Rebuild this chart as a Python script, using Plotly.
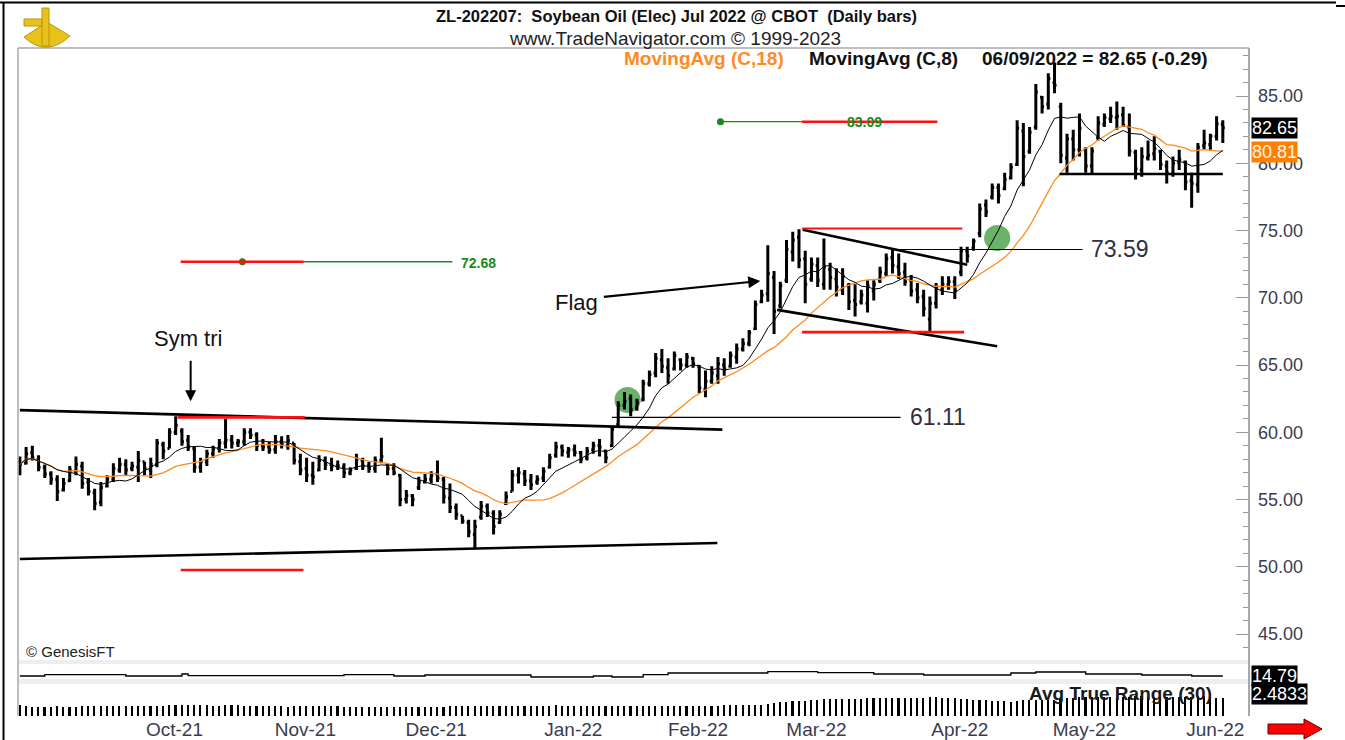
import numpy as np
import pandas as pd
import plotly.graph_objects as go

W, H = 1345, 740
FONT = "Liberation Sans, Arial, sans-serif"

# ---------------- data ----------------
month_labels = ["Oct-21", "Nov-21", "Dec-21", "Jan-22", "Feb-22", "Mar-22", "Apr-22", "May-22", "Jun-22"]
month_first_bar = [20, 41, 62, 84, 104, 123, 146, 166, 187]
price_ticks = [45, 50, 55, 60, 65, 70, 75, 80, 85]

opens = [
    57.8, 57.7, 58.5, 58.0, 57.4, 56.9, 56.5, 55.7, 56.4, 57.1,
    57.5, 56.3, 55.5, 54.8, 56.0, 56.5, 57.2, 57.6, 57.3, 57.4,
    57.8, 57.2, 57.6, 59.1, 58.8, 60.0, 60.1, 59.4, 58.8, 57.4,
    57.8, 58.4, 58.8, 59.2, 59.4, 59.2, 59.3, 60.0, 59.8, 59.0,
    58.9, 58.7, 59.3, 59.0, 59.2, 57.8, 57.3, 56.8, 57.2, 57.9,
    57.6, 57.5, 57.4, 57.0, 57.3, 57.9, 57.5, 57.3, 57.9, 57.6,
    57.3, 56.8, 55.0, 55.3, 55.9, 56.3, 56.5, 56.9, 56.5, 55.1,
    54.4, 53.8, 53.3, 52.4, 53.7, 54.5, 54.0, 53.3, 54.7, 55.6,
    56.8, 56.9, 56.4, 56.3, 56.6, 57.4, 58.3, 58.9, 58.5, 58.7,
    58.5, 58.1, 58.7, 59.0, 58.6, 59.0, 60.6, 62.0, 62.5, 61.8,
    62.4, 63.6, 64.4, 65.4, 64.8, 64.7, 65.4, 65.0, 65.5, 64.9,
    63.2, 63.8, 64.2, 65.0, 64.9, 65.6, 66.2, 66.6, 67.7, 69.7,
    70.3, 71.5, 69.4, 71.3, 73.4, 74.5, 72.9, 71.4, 72.4, 71.0,
    72.1, 71.4, 70.6, 70.9, 69.8, 69.7, 69.6, 70.5, 71.3, 71.8,
    73.0, 72.3, 71.9, 71.3, 70.6, 70.1, 68.4, 69.6, 70.6, 71.0,
    71.2, 71.9, 73.5, 73.7, 74.8, 76.9, 77.5, 78.2, 78.1, 78.9,
    79.9, 82.4, 80.9, 82.7, 84.9, 84.4, 86.0, 84.2, 80.4, 81.8,
    81.0, 81.0, 79.8, 81.9, 82.9, 83.3, 83.4, 83.6, 82.7, 80.8,
    79.5, 80.4, 80.7, 80.9, 79.8, 79.2, 80.1, 80.1, 78.7, 78.4,
    81.3, 81.4, 82.0, 82.9,
]
highs = [
    58.2, 58.9, 59.0, 58.3, 57.6, 57.1, 56.8, 56.6, 57.5, 58.2,
    57.8, 56.6, 55.8, 56.3, 56.8, 57.7, 58.1, 58.0, 57.8, 58.6,
    57.8, 58.1, 59.5, 59.3, 60.3, 61.2, 60.3, 59.8, 58.9, 58.1,
    58.7, 59.0, 59.5, 61.0, 59.8, 59.5, 60.3, 60.3, 60.0, 59.5,
    59.3, 59.8, 59.7, 59.8, 59.2, 58.4, 58.1, 57.8, 58.3, 58.2,
    58.1, 57.9, 57.7, 57.4, 58.4, 58.1, 57.8, 58.2, 59.6, 57.7,
    57.7, 56.9, 55.7, 55.4, 56.7, 56.9, 57.1, 57.9, 56.7, 56.2,
    54.7, 53.8, 53.5, 53.5, 54.9, 54.7, 54.2, 54.2, 55.6, 57.2,
    57.4, 57.2, 56.9, 56.8, 57.4, 58.4, 59.3, 59.1, 58.9, 59.1,
    58.6, 58.9, 59.3, 59.5, 58.7, 60.4, 62.3, 63.0, 62.8, 62.5,
    63.9, 64.6, 65.9, 66.2, 65.5, 66.0, 65.5, 65.9, 65.6, 65.0,
    64.6, 64.9, 65.6, 65.5, 66.0, 66.6, 67.0, 67.6, 69.8, 70.6,
    73.9, 72.0, 71.2, 74.3, 74.9, 75.1, 73.5, 73.0, 73.0, 74.4,
    72.6, 72.2, 72.2, 71.1, 71.0, 70.6, 71.3, 71.3, 72.3, 73.3,
    73.7, 73.3, 72.6, 71.7, 71.1, 70.6, 70.1, 71.1, 71.6, 71.6,
    71.6, 73.8, 73.8, 74.4, 77.0, 77.3, 78.5, 78.5, 79.3, 80.0,
    83.2, 83.0, 82.7, 85.9, 85.0, 86.7, 87.5, 84.5, 82.2, 82.5,
    83.7, 81.2, 81.2, 83.5, 83.7, 84.2, 84.6, 84.2, 83.7, 81.0,
    81.2, 81.7, 82.0, 81.0, 80.2, 80.5, 81.0, 80.2, 79.3, 81.5,
    82.5, 82.2, 83.5, 83.2,
]
lows = [
    56.8, 57.6, 57.9, 57.1, 56.6, 56.1, 54.9, 55.6, 56.3, 56.8,
    55.8, 55.3, 54.2, 54.5, 55.9, 56.3, 57.0, 56.8, 57.1, 56.3,
    56.8, 56.6, 57.4, 58.0, 58.8, 59.8, 59.0, 58.6, 57.0, 57.0,
    57.5, 58.1, 58.5, 58.8, 58.8, 58.9, 59.0, 59.5, 58.6, 58.6,
    58.4, 58.4, 58.8, 58.7, 57.6, 56.8, 56.3, 56.1, 57.1, 57.2,
    57.1, 57.2, 56.6, 56.8, 57.2, 57.2, 57.0, 57.0, 57.7, 56.8,
    56.8, 54.5, 54.7, 54.5, 55.7, 56.2, 56.2, 56.3, 54.7, 54.0,
    53.5, 53.2, 52.2, 51.4, 53.5, 53.7, 52.4, 53.2, 54.6, 55.6,
    56.2, 56.0, 55.7, 56.1, 56.3, 57.3, 58.1, 58.2, 58.1, 58.2,
    57.7, 57.9, 58.4, 58.2, 57.7, 58.9, 60.4, 61.7, 61.2, 61.6,
    62.3, 63.4, 64.1, 64.4, 63.6, 64.6, 64.6, 64.8, 64.8, 62.9,
    62.6, 63.6, 63.6, 64.2, 64.8, 65.1, 66.0, 66.4, 67.6, 69.6,
    69.7, 67.3, 69.2, 71.1, 72.7, 72.2, 69.6, 71.2, 70.8, 70.6,
    70.6, 70.1, 70.2, 69.1, 68.6, 69.5, 68.9, 69.8, 71.1, 71.6,
    71.8, 71.4, 70.9, 70.1, 69.6, 68.6, 67.4, 69.2, 70.2, 70.6,
    69.9, 71.6, 72.6, 73.5, 74.5, 76.0, 77.3, 77.0, 78.0, 78.8,
    79.8, 78.3, 80.7, 82.5, 83.7, 84.0, 85.2, 80.0, 79.3, 80.2,
    80.5, 79.3, 79.2, 81.7, 82.7, 83.0, 82.5, 82.7, 80.5, 78.8,
    79.0, 80.2, 80.2, 79.5, 78.5, 79.0, 79.5, 78.0, 76.7, 77.8,
    81.0, 81.0, 81.7, 81.5,
]
closes = [
    57.6, 58.4, 58.1, 57.4, 56.9, 56.5, 55.6, 56.2, 57.2, 57.6,
    56.2, 55.6, 54.7, 55.9, 56.5, 57.3, 57.6, 57.2, 57.5, 57.9,
    57.3, 57.6, 59.2, 58.6, 60.0, 60.5, 59.3, 58.9, 57.4, 57.8,
    58.4, 58.8, 59.2, 59.4, 59.2, 59.3, 60.0, 59.8, 59.0, 58.9,
    58.7, 59.3, 59.1, 59.4, 57.9, 57.2, 56.8, 56.7, 57.9, 57.6,
    57.5, 57.5, 57.0, 57.2, 58.0, 57.5, 57.3, 57.9, 58.2, 57.3,
    57.0, 55.0, 55.3, 55.0, 56.3, 56.5, 56.8, 56.6, 55.2, 54.4,
    53.9, 53.4, 52.6, 53.0, 54.5, 54.0, 53.0, 53.9, 55.2, 56.8,
    57.0, 56.4, 56.1, 56.5, 57.1, 58.1, 58.9, 58.6, 58.7, 58.5,
    58.0, 58.6, 59.0, 58.9, 58.1, 60.2, 62.0, 62.3, 61.7, 62.2,
    63.6, 64.3, 65.5, 64.9, 64.2, 65.7, 65.0, 65.6, 65.1, 63.3,
    63.8, 64.4, 65.1, 64.7, 65.7, 66.2, 66.6, 67.4, 69.5, 70.2,
    71.8, 69.0, 70.9, 73.6, 74.3, 72.8, 71.0, 72.5, 71.3, 72.3,
    71.5, 70.8, 71.6, 69.7, 69.5, 70.2, 70.9, 71.0, 71.9, 72.9,
    72.4, 71.8, 71.2, 70.5, 70.0, 69.2, 69.6, 70.7, 71.0, 71.2,
    70.6, 73.5, 73.1, 74.2, 76.6, 76.4, 78.2, 77.6, 78.8, 79.7,
    82.6, 80.5, 82.3, 85.3, 84.2, 86.3, 85.8, 80.6, 81.8, 81.0,
    82.6, 79.8, 80.9, 83.0, 83.4, 83.5, 83.5, 82.8, 80.9, 79.6,
    80.5, 80.6, 81.1, 79.9, 79.3, 80.0, 80.3, 78.6, 78.5, 81.2,
    81.5, 82.0, 82.94, 82.65,
]

last_close_label = 82.65
ma18_label = 80.81
upper_panel_label = 14.79
atr_label_text = "2.4833"

# small upper indicator panel: level changes (bar index, value)
sub_bars = [0, 4, 17, 26, 27, 52, 60, 65, 82, 92, 95, 100, 104, 120, 128, 137, 145, 159, 163, 171, 180, 188, 193]
sub_vals = [14.8, 15.5, 14.8, 15.8, 15.0, 15.5, 14.8, 15.3, 14.3, 14.8, 14.3, 15.5, 16.3, 17.0, 16.5,
            15.8, 15.3, 16.3, 16.8, 15.8, 15.3, 14.79, 14.79]

# drawn study levels
breakout_tri = 61.11
breakout_flag = 73.59
target_tri = 72.68
target_flag = 83.09
support_level = 79.2

# ---------------- derived indicators ----------------
n = len(closes)
idx = np.arange(n)
c = pd.Series(closes)
ma18 = c.rolling(18, min_periods=1).mean()
ma8 = c.rolling(8, min_periods=1).mean()
h = pd.Series(highs)
l = pd.Series(lows)
prev = c.shift(1).fillna(opens[0])
tr = pd.concat([h - l, (h - prev).abs(), (l - prev).abs()], axis=1).max(axis=1)
atr = tr.rolling(30, min_periods=1).mean()


def px(x):
    return x / W


def py(y):
    return 1 - y / H


fig = go.Figure()

fig.add_trace(go.Ohlc(
    x=idx, open=opens, high=highs, low=lows, close=closes,
    increasing=dict(line=dict(color="black", width=3)),
    decreasing=dict(line=dict(color="black", width=3)),
    tickwidth=0.32, xaxis="x", yaxis="y", showlegend=False, hoverinfo="skip",
))
fig.add_trace(go.Scatter(x=idx, y=ma18, mode="lines", line=dict(color="#ff8a1e", width=1.3),
                         xaxis="x", yaxis="y", showlegend=False, hoverinfo="skip"))
fig.add_trace(go.Scatter(x=idx, y=ma8, mode="lines", line=dict(color="black", width=1),
                         xaxis="x", yaxis="y", showlegend=False, hoverinfo="skip"))
fig.add_trace(go.Scatter(x=[35.7, 112.4], y=[target_tri, target_flag], mode="markers",
                         marker=dict(color="#1a8a1a", size=7), xaxis="x", yaxis="y",
                         showlegend=False, hoverinfo="skip"))
fig.add_trace(go.Scatter(x=sub_bars, y=sub_vals, mode="lines", line=dict(color="black", width=1.3, shape="hv"),
                         xaxis="x2", yaxis="y2", showlegend=False, hoverinfo="skip"))
fig.add_trace(go.Bar(x=idx, y=atr, width=0.26, marker=dict(color="black", line=dict(width=0)),
                     xaxis="x3", yaxis="y3", showlegend=False, hoverinfo="skip"))

shapes = []


def seg(x0, y0, x1, y1, color="black", width=1.0, xref="x", yref="y", layer="above"):
    shapes.append(dict(type="line", x0=x0, y0=y0, x1=x1, y1=y1, xref=xref, yref=yref,
                       line=dict(color=color, width=width), layer=layer))


# triangle / flag trend lines
seg(0.0, 61.65, 112.7, 60.2, width=2.6)
seg(0.0, 50.58, 111.9, 51.77, width=2.6)
seg(125.6, 75.05, 152.0, 72.45, width=2.6)
seg(121.5, 69.1, 156.8, 66.4, width=2.6)
seg(166.8, support_level, 193.0, support_level, width=2.6)

# breakout levels (thin)
seg(95.0, breakout_tri, 141.3, breakout_tri, width=1.2)
seg(140.0, breakout_flag, 170.5, breakout_flag, width=1.2)
# targets (green)
seg(35.7, target_tri, 69.4, target_tri, color="#1a8a1a", width=1.3)
seg(112.4, target_flag, 132.5, target_flag, color="#1a8a1a", width=1.3)
# red measurement lines
red = "#ff1010"
seg(25.3, breakout_tri, 45.7, breakout_tri, color=red, width=2.6)
seg(25.8, 49.76, 45.5, 49.76, color=red, width=2.6)
seg(25.8, target_tri, 45.5, target_tri, color=red, width=2.6)
seg(125.5, 75.15, 151.2, 75.15, color=red, width=2.2)
seg(125.5, 67.45, 151.5, 67.45, color=red, width=2.6)
seg(125.5, target_flag, 147.2, target_flag, color=red, width=2.6)

# green breakout circles
for cx, cy in [(97.5, 62.4), (156.8, 74.44)]:
    shapes.append(dict(type="circle", xref="x", yref="y", x0=cx - 2.1, x1=cx + 2.1, y0=cy - 0.97, y1=cy + 0.97,
                       fillcolor="rgba(70,160,70,0.8)", line=dict(width=0), layer="below"))

# panel separators (light gray bands)
shapes.append(dict(type="rect", xref="paper", yref="paper", x0=px(18), x1=px(1249), y0=py(664), y1=py(660),
                   fillcolor="#eeeeee", line=dict(width=0), layer="below"))
shapes.append(dict(type="rect", xref="paper", yref="paper", x0=px(18), x1=px(1249), y0=py(684), y1=py(679),
                   fillcolor="#eeeeee", line=dict(width=0), layer="below"))
# plot frame (gray)
seg(px(18), py(48), px(1249), py(48), color="#a8a8a8", width=1.5, xref="paper", yref="paper")
seg(px(18), py(48), px(18), py(716), color="#a8a8a8", width=1.5, xref="paper", yref="paper")
seg(px(1249), py(48), px(1249), py(716), color="#a8a8a8", width=2, xref="paper", yref="paper")
# outer black frame
seg(px(0), py(2.5), px(1336), py(2.5), color="black", width=2, xref="paper", yref="paper")
seg(px(1336), py(6), px(1345), py(6), color="black", width=2, xref="paper", yref="paper")
seg(px(3.5), py(2), px(3.5), py(740), color="black", width=2, xref="paper", yref="paper")

# red arrow (bottom right)
arrow_path = "M {} {} L {} {} L {} {} L {} {} L {} {} L {} {} L {} {} Z".format(
    px(1268), py(724), px(1304), py(724), px(1304), py(719), px(1322), py(729),
    px(1304), py(739), px(1304), py(734), px(1268), py(734))
shapes.append(dict(type="path", xref="paper", yref="paper", path=arrow_path,
                   fillcolor="#ff0000", line=dict(color="#600000", width=1)))

# simple golden sextant logo
gold = "#e8c21a"
shapes.append(dict(type="path", xref="paper", yref="paper",
                   path="M {} {} Q {} {} {} {} L {} {} Z".format(px(24), py(37), px(46), py(58), px(70), py(36),
                                                                 px(47), py(22)),
                   fillcolor=gold, line=dict(color="#b8960a", width=1)))
shapes.append(dict(type="rect", xref="paper", yref="paper", x0=px(24), x1=px(42), y0=py(26), y1=py(19),
                   fillcolor=gold, line=dict(color="#b8960a", width=1)))
shapes.append(dict(type="rect", xref="paper", yref="paper", x0=px(42), x1=px(49), y0=py(46), y1=py(8),
                   fillcolor=gold, line=dict(color="#b8960a", width=1)))

ann = []


def text(x, y, s, size, color="black", bold=False, xanchor="center", xref="paper", yref="paper", **kw):
    d = dict(x=x, y=y, xref=xref, yref=yref, text=("<b>%s</b>" % s) if bold else s, showarrow=False,
             xanchor=xanchor, yanchor="middle", font=dict(family=FONT, size=size, color=color))
    d.update(kw)
    ann.append(d)


NB = "\u00a0"
text(px(676), py(16), "ZL-202207:" + NB + NB + "Soybean Oil (Elec) Jul 2022 @ CBOT" + NB + NB + "(Daily bars)",
     16.5, bold=True, color="#111111")
text(px(675), py(38), "www.TradeNavigator.com © 1999-2023", 19, color="#222222")
text(px(622), py(59), "MovingAvg (C,18)", 19, color="#ff8a1e", bold=True, xanchor="left")
text(px(807), py(59), "MovingAvg (C,8)", 19, color="#111111", bold=True, xanchor="left")
text(px(980), py(59), "06/09/2022 = %.2f (-0.29)" % last_close_label, 19, color="#111111", bold=True,
     xanchor="left")

text(px(24), py(651), "© GenesisFT", 15, color="#222222", xanchor="left")
text(px(1120), py(693), "Avg True Range (30)", 19, color="#1a1a1a", bold=True)

# level labels
text(px(908), py(417), "%.2f" % breakout_tri, 23, color="#2e2e40", xanchor="left")
text(px(1089), py(249), "%.2f" % breakout_flag, 23, color="#2e2e40", xanchor="left")
text(px(459), py(263), "%.2f" % target_tri, 14, color="#1a8a1a", bold=True, xanchor="left")
text(px(845), py(122), "%.2f" % target_flag, 14, color="#1a8a1a", bold=True, xanchor="left")

# pattern labels with arrows
text(px(188), py(338), "Sym tri", 22, color="#111111")
text(px(576), py(302), "Flag", 22, color="#111111")
ann.append(dict(x=27.4, y=62.3, xref="x", yref="y", ax=0, ay=-42, text="", showarrow=True,
                arrowhead=2, arrowsize=1.1, arrowwidth=2, arrowcolor="black"))
ann.append(dict(x=118.8, y=71.25, xref="x", yref="y", ax=-158, ay=16, text="", showarrow=True,
                arrowhead=2, arrowsize=1.1, arrowwidth=2.2, arrowcolor="black"))

# right side value boxes
box = dict(showarrow=False, xanchor="left", yanchor="middle", borderpad=0)
ann.append(dict(x=px(1251), y=last_close_label, xref="paper", yref="y", text="%.2f" % last_close_label,
                bgcolor="black", font=dict(family=FONT, size=18, color="white"), **box))
ann.append(dict(x=px(1251), y=ma18_label, xref="paper", yref="y", text="%.2f" % ma18_label,
                bgcolor="#ff8000", font=dict(family=FONT, size=18, color="#fff4e8"), **box))
ann.append(dict(x=px(1251), y=upper_panel_label, xref="paper", yref="y2", text="%.2f" % upper_panel_label,
                bgcolor="black", font=dict(family=FONT, size=18, color="white"), **box))
ann.append(dict(x=px(1251), y=py(694), xref="paper", yref="paper", text=atr_label_text,
                bgcolor="black", font=dict(family=FONT, size=18, color="white"), **box))

xdom = [px(18), px(1249)]
xrange = [-0.3, 197.2]
label_color = "#3b3b4f"

fig.update_layout(
    width=W, height=H, margin=dict(l=0, r=0, t=0, b=0),
    paper_bgcolor="white", plot_bgcolor="white", showlegend=False, bargap=0,
    xaxis=dict(domain=xdom, range=xrange, anchor="y", showticklabels=False, showgrid=False, zeroline=False,
               rangeslider=dict(visible=False), ticks=""),
    yaxis=dict(domain=[py(660), py(48)], range=[43.07, 88.57], side="right", anchor="x",
               tickvals=price_ticks, ticktext=["%.2f" % v for v in price_ticks],
               ticks="inside", ticklen=13, tickwidth=1.3, tickcolor="#9a9a9a",
               minor=dict(dtick=1, ticks="inside", ticklen=6, tickcolor="#9a9a9a", tickwidth=1.2),
               showline=False, showgrid=False, zeroline=False, ticklabelstandoff=8,
               tickfont=dict(family=FONT, size=18, color=label_color)),
    xaxis2=dict(domain=xdom, range=xrange, anchor="y2", matches="x", visible=False),
    yaxis2=dict(domain=[py(683), py(660)], range=[11.29, 22.79], visible=False),
    xaxis3=dict(domain=xdom, range=xrange, anchor="y3", matches="x", showgrid=False, zeroline=False,
                tickvals=[b + 4.8 for b in month_first_bar], ticktext=month_labels, ticks="",
                tickfont=dict(family=FONT, size=19, color=label_color), showline=False),
    yaxis3=dict(domain=[py(716), py(684)], range=[0.2, 3.8], visible=False),
    shapes=shapes, annotations=ann,
)

fig.write_html("out.html", config={"displayModeBar": False},
               post_script="document.body.style.margin='0px';document.body.style.overflow='hidden';")
